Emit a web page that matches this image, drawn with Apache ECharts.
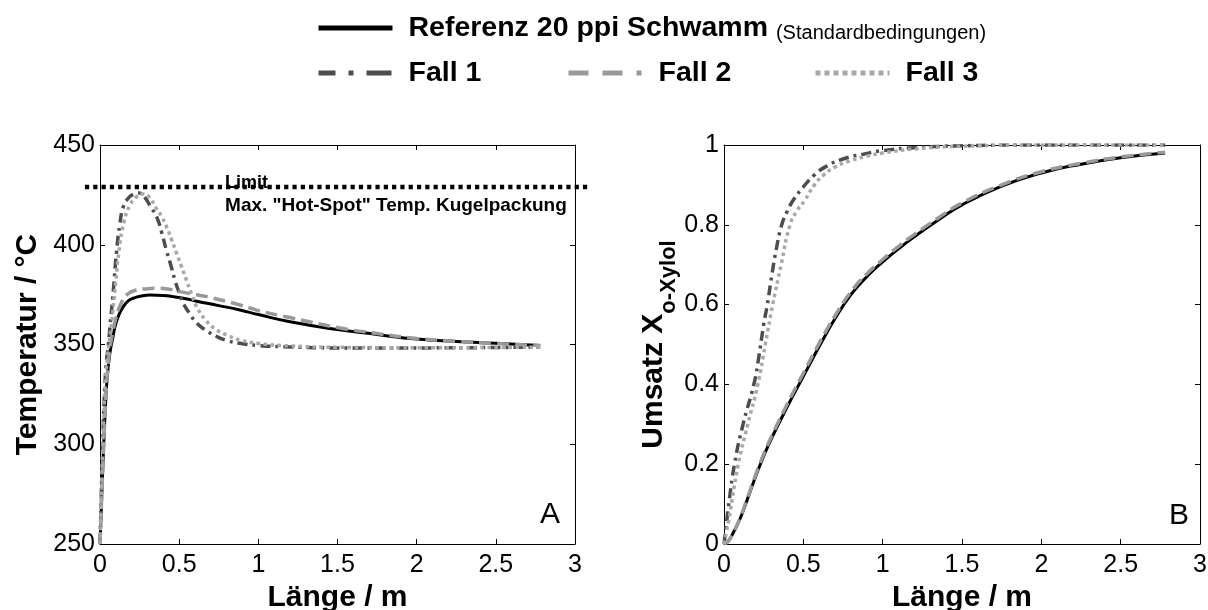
<!DOCTYPE html>
<html><head><meta charset="utf-8">
<script src="https://cdn.jsdelivr.net/npm/echarts@6/dist/echarts.min.js"></script>
<style>html,body{margin:0;padding:0;background:#fff}#c{width:1208px;height:610px}</style>
</head><body><div id="c"></div>
<script>
// ---------- Panel A: Temperatur ----------
const refTx  = [0,0.01,0.02,0.03,0.045,0.063,0.08,0.095,0.12,0.147,0.18,0.21,0.26,0.316,0.4,0.463,0.55,0.61,0.75,0.884,1.0,1.2,1.5,1.75,2.0,2.25,2.5,2.78];
const refT   = [250,272,293,312,333,346,353,359,365,369,372,373.2,374.3,374.8,374.6,374,372.8,371.7,369.5,367.3,365,361.4,357.5,355,352.7,351.5,350.6,349.5];
const fall1Tx = [0,0.01,0.02,0.03,0.04,0.053,0.063,0.084,0.105,0.125,0.147,0.18,0.215,0.245,0.28,0.32,0.358,0.39,0.42,0.45,0.474,0.5,0.526,0.57,0.61,0.67,0.737,0.8,0.884,1.0,1.2,1.5,2.0,2.5,2.78];
const fall1T  = [250,280,308,328,341,350,359,377,397,410,419,423.5,425.5,426,424,419,414,406,397,389,382,376,370.7,365,360.8,357,354,352,350.6,349.5,348.8,348.3,348.3,348.5,348.7];
const fall2Tx = [0,0.01,0.02,0.03,0.045,0.063,0.08,0.1,0.13,0.17,0.23,0.3,0.358,0.45,0.505,0.6,0.674,0.884,1.0,1.2,1.5,1.75,2.0,2.25,2.5,2.78];
const fall2T  = [250,272,293,312,334,348,356,363,370,375,377.3,378,378.2,377.5,376.5,375,374,369.8,367,363.5,358.5,355.5,353,351.6,350.5,349.5];
const fall3Tx = [0,0.01,0.02,0.03,0.045,0.06,0.08,0.1,0.12,0.15,0.19,0.23,0.27,0.31,0.35,0.39,0.42,0.45,0.484,0.515,0.547,0.58,0.61,0.67,0.737,0.8,0.884,1.0,1.2,1.5,2.0,2.5,2.78];
const fall3T  = [250,278,305,325,342,352,366,382,397,411,420,424,425.5,424,419,414,409,403,395.7,389,382,375,369,362,357.3,354.8,352.3,350.5,349.3,348.6,348.4,348.5,348.7];
// dotted limit line runs a little past both frame edges
const limitX = [-0.095, 3.09];
const limitT = [429, 429];
const limitTextX = 0.79;

// ---------- Panel B: Umsatz ----------
const refXx  = [0,0.025,0.05,0.1,0.15,0.2,0.25,0.3,0.4,0.5,0.6,0.7,0.8,0.9,1.0,1.1,1.2,1.35,1.5,1.75,2.0,2.25,2.5,2.78];
const refX   = [0,0.006,0.022,0.062,0.115,0.17,0.22,0.265,0.345,0.42,0.495,0.565,0.625,0.67,0.707,0.74,0.77,0.812,0.85,0.897,0.93,0.952,0.968,0.98];
const fall2Xx = refXx;
const fall2X  = [0,0.006,0.022,0.064,0.118,0.174,0.225,0.27,0.352,0.428,0.503,0.572,0.632,0.677,0.713,0.746,0.776,0.817,0.855,0.9,0.933,0.954,0.97,0.982];
const fall1Xx = [0,0.015,0.03,0.066,0.12,0.188,0.22,0.25,0.273,0.3,0.33,0.364,0.4,0.437,0.5,0.57,0.647,0.75,0.878,1.0,1.2,1.5,2.0,2.78];
const fall1X  = [0,0.05,0.1,0.2,0.3,0.4,0.47,0.55,0.6,0.67,0.74,0.8,0.835,0.862,0.895,0.925,0.947,0.965,0.977,0.986,0.993,0.998,1.0,1.0];
const fall3Xx = [0,0.015,0.03,0.09,0.15,0.213,0.26,0.307,0.36,0.416,0.46,0.51,0.57,0.629,0.7,0.794,0.9,1.0,1.2,1.5,2.0,2.78];
const fall3X  = [0,0.03,0.06,0.2,0.3,0.4,0.5,0.6,0.7,0.8,0.835,0.862,0.9,0.925,0.945,0.96,0.972,0.98,0.99,0.997,1.0,1.0];

// ---------- axes / labels ----------
const xRange = [0, 3], xStep = 0.5;
const tRange = [250, 450], tStep = 50;
const uRange = [0, 1], uStep = 0.2;
const nameRef = 'Referenz 20 ppi Schwamm';
const nameRefNote = '(Standardbedingungen)';
const names = ['Fall 1', 'Fall 2', 'Fall 3'];
const xTitle = 'Länge / m';
const tTitle = 'Temperatur / °C';
const uTitleMain = 'Umsatz X', uTitleSub = 'o-Xylol';
const limitLabel1 = 'Limit', limitLabel2 = 'Max. "Hot-Spot" Temp. Kugelpackung';
const panelLabels = ['A', 'B'];

const FONT = '"Liberation Sans", Arial, Helvetica, sans-serif';
const zip = (a, b) => a.map((v, i) => [v, b[i]]);

const styles = {
  ref:   {color: '#000000', width: 3, type: 'solid'},
  fall1: {color: '#4d4d4d', width: 3.5, type: [10, 5, 3, 5]},
  fall2: {color: '#999999', width: 3.5, type: [12, 6]},
  fall3: {color: '#a8a8a8', width: 3.5, type: [3.5, 3.5]}
};

// frame geometry of panel A (px per unit = 475/3); the limit grid is the same scale, widened
const pxPerX = 475 / 3;

function xAx(gi, pos, withLabel) {
  return {
    gridIndex: gi, type: 'value', position: pos, min: xRange[0], max: xRange[1], interval: xStep,
    axisLine: {show: true, onZero: false, lineStyle: {color: '#000', width: 1}},
    axisTick: {show: true, inside: true, length: 5, lineStyle: {color: '#000'}},
    axisLabel: {show: withLabel, fontSize: 25, color: '#000', margin: 9, fontFamily: FONT},
    splitLine: {show: false},
    name: withLabel ? xTitle : '', nameLocation: 'middle', nameGap: 30,
    nameTextStyle: {fontSize: 30, fontWeight: 'bold', color: '#000', fontFamily: FONT}
  };
}
function yAx(gi, pos, rng, step, withLabel, name, nameGap, nameStyle) {
  return {
    gridIndex: gi, type: 'value', position: pos, min: rng[0], max: rng[1], interval: step,
    axisLine: {show: true, onZero: false, lineStyle: {color: '#000', width: 1}},
    axisTick: {show: true, inside: true, length: 5, lineStyle: {color: '#000'}},
    axisLabel: {show: withLabel, fontSize: 25, color: '#000', margin: 5, fontFamily: FONT},
    splitLine: {show: false},
    name: withLabel ? name : '', nameLocation: 'middle', nameGap: nameGap,
    nameTextStyle: nameStyle
  };
}
function hiddenAx(gi, rng) {
  return {gridIndex: gi, type: 'value', min: rng[0], max: rng[1], show: false,
          axisLine: {show: false, onZero: false}, splitLine: {show: false}};
}

function lineSeries(name, xi, yi, xs, ys, st, z) {
  return {
    name, type: 'line', xAxisIndex: xi, yAxisIndex: yi, data: zip(xs, ys),
    symbol: 'none', smooth: 0.5, z: z,
    lineStyle: {color: st.color, width: st.width, type: st.type, cap: 'butt'},
    itemStyle: {color: st.color}
  };
}

function legendItem(name, left, top, lw, ltype, dashOffset, color, fmt, rich) {
  return {
    data: [name], left: left, top: top, padding: 0, itemWidth: 74, itemHeight: 14,
    selectedMode: false,
    itemStyle: {color: 'rgba(0,0,0,0)', borderColor: 'rgba(0,0,0,0)', borderWidth: 0},
    lineStyle: {width: lw, type: ltype, dashOffset: dashOffset, color: color, cap: 'butt'},
    formatter: fmt,
    textStyle: {color: '#000', fontFamily: FONT, rich: rich}
  };
}
const legRich = {
  sp: {width: 11},
  b: {fontSize: 28.5, fontWeight: 'bold', color: '#000', fontFamily: FONT, verticalAlign: 'bottom', lineHeight: 30},
  s: {fontSize: 20, color: '#000', fontFamily: FONT, verticalAlign: 'bottom', lineHeight: 24}
};

const gridA = {left: 100, top: 145, width: 475, height: 399};
const option = {
  animation: false,
  backgroundColor: '#ffffff',
  textStyle: {fontFamily: FONT},
  grid: [
    Object.assign({outerBoundsMode: 'none', containLabel: false}, gridA),
    {left: 724, top: 145, width: 476, height: 399, outerBoundsMode: 'none', containLabel: false},
    // same vertical scale as panel A, x extent widened to the limit line's ends
    {left: gridA.left + limitX[0] * pxPerX, top: 145,
     width: (limitX[1] - limitX[0]) * pxPerX, height: 399, outerBoundsMode: 'none', containLabel: false}
  ],
  xAxis: [xAx(0, 'bottom', true), xAx(0, 'top', false), xAx(1, 'bottom', true), xAx(1, 'top', false),
          hiddenAx(2, limitX)],
  yAxis: [
    yAx(0, 'left', tRange, tStep, true, tTitle, 57, {fontSize: 30, fontWeight: 'bold', color: '#000', fontFamily: FONT}),
    yAx(0, 'right', tRange, tStep, false),
    yAx(1, 'left', uRange, uStep, true, '{a|' + uTitleMain + '}{s|' + uTitleSub + '}', 46, {
      color: '#000', fontFamily: FONT,
      rich: {
        a: {fontSize: 30, fontWeight: 'bold', color: '#000', fontFamily: FONT, lineHeight: 30, verticalAlign: 'top'},
        s: {fontSize: 22, fontWeight: 'bold', color: '#000', fontFamily: FONT, lineHeight: 22, verticalAlign: 'top', padding: [20, 0, 0, 0]}
      }
    }),
    yAx(1, 'right', uRange, uStep, false),
    hiddenAx(2, tRange)
  ],
  legend: [
    legendItem(nameRef, 316, 14, 5, 'solid', 0, '#000',
      () => '{sp|}{b|' + nameRef + ' }{s|' + nameRefNote + '}', legRich),
    legendItem(names[0], 316, 59, 5, [25, 13, 5, 13], 8, styles.fall1.color,
      (n) => '{sp|}{b|' + n + '}', legRich),
    legendItem(names[1], 566, 59, 5, [20, 14, 20, 14, 5, 14], 0, styles.fall2.color,
      (n) => '{sp|}{b|' + n + '}', legRich),
    legendItem(names[2], 813, 59, 5, [5, 4], 0, styles.fall3.color,
      (n) => '{sp|}{b|' + n + '}', legRich)
  ],
  graphic: [
    {type: 'text', x: 550, y: 515, style: {text: panelLabels[0], fontSize: 30, fill: '#000', fontFamily: FONT, align: 'center', verticalAlign: 'middle'}},
    {type: 'text', x: 1179, y: 516, style: {text: panelLabels[1], fontSize: 30, fill: '#000', fontFamily: FONT, align: 'center', verticalAlign: 'middle'}}
  ],
  series: [
    {
      name: 'Limit', type: 'line', xAxisIndex: 4, yAxisIndex: 4, data: zip(limitX, limitT),
      symbol: 'none', clip: false, z: 1,
      lineStyle: {color: '#000', width: 4.5, type: [4.2, 4.1], cap: 'butt'},
      markPoint: {
        symbol: 'circle', symbolSize: 0, silent: true,
        data: [
          {coord: [limitTextX, limitT[0]], label: {show: true, formatter: limitLabel1, position: 'right', distance: 0, offset: [0, -4], fontSize: 18, fontWeight: 'bold', color: '#000', fontFamily: FONT}},
          {coord: [limitTextX, limitT[0]], label: {show: true, formatter: limitLabel2, position: 'right', distance: 0, offset: [0, 19], fontSize: 19, fontWeight: 'bold', color: '#000', fontFamily: FONT}}
        ]
      }
    },
    lineSeries(nameRef, 0, 0, refTx, refT, styles.ref, 2),
    lineSeries(names[0], 0, 0, fall1Tx, fall1T, styles.fall1, 3),
    lineSeries(names[1], 0, 0, fall2Tx, fall2T, styles.fall2, 4),
    lineSeries(names[2], 0, 0, fall3Tx, fall3T, styles.fall3, 5),
    lineSeries(nameRef, 2, 2, refXx, refX, styles.ref, 2),
    lineSeries(names[0], 2, 2, fall1Xx, fall1X, styles.fall1, 3),
    lineSeries(names[1], 2, 2, fall2Xx, fall2X, styles.fall2, 4),
    lineSeries(names[2], 2, 2, fall3Xx, fall3X, styles.fall3, 5)
  ]
};
const chart = echarts.init(document.getElementById('c'), null, {renderer: 'canvas'});
chart.setOption(option);
</script>
</body></html>
